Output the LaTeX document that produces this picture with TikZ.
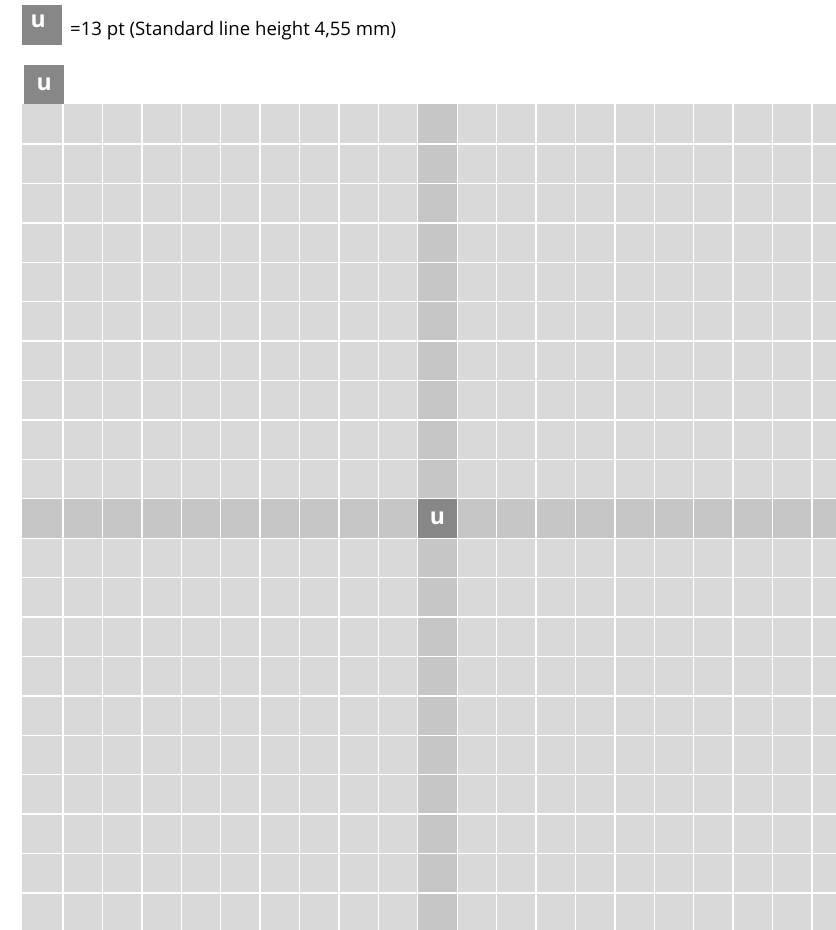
\documentclass[tikz,border=0pt]{standalone}
\usepackage{fontspec}
\setmainfont{Open Sans}
\definecolor{cellgray}{HTML}{D9D9D9}
\definecolor{bandgray}{HTML}{C6C6C6}
\definecolor{boxgray}{HTML}{878787}
\begin{document}
\begin{tikzpicture}[x=1pt,y=-1pt,
  ubox/.style={fill=boxgray, inner sep=0pt, minimum width=40pt, minimum height=40pt, anchor=north west},
  ulabel/.style={text=white, inner sep=0pt, font=\fontsize{23}{23}\selectfont\bfseries},
  gridline/.style={white, line width=1.4pt}]
\useasboundingbox (0,0) rectangle (836,930);
% legend
\node[ubox] (legendbox) at (22,5) {};
\node[ulabel] (legendu) at (38.3,21) {u};
\node[anchor=base west, inner sep=0pt, font=\fontsize{18.6}{22}\selectfont] (legendtext) at (70,35.3) {=13 pt (Standard line height 4,55 mm)};
% corner box
\node[ubox, minimum height=39pt] (cornerbox) at (24,65) {};
\node[ulabel] (corneru) at (cornerbox.center) {u};
% grid background
\fill[cellgray] (22,104) rectangle (836,930);
\fill[bandgray] (417.8,104) rectangle (457.2,930);
\fill[bandgray] (22,498.8) rectangle (836,538.2);
\node[fill=boxgray, inner sep=0pt, minimum width=39.4pt, minimum height=39.4pt] (centerbox) at (437.5,518.5) {};
\node[ulabel] (centeru) at (centerbox.center) {u};
% grid lines
\foreach \k in {0,...,19} {
  \draw[gridline] ({63+39.42*\k},104) -- ({63+39.42*\k},930);
  \draw[gridline] (22,{144+39.42*\k}) -- (836,{144+39.42*\k});
}
\end{tikzpicture}
\end{document}
